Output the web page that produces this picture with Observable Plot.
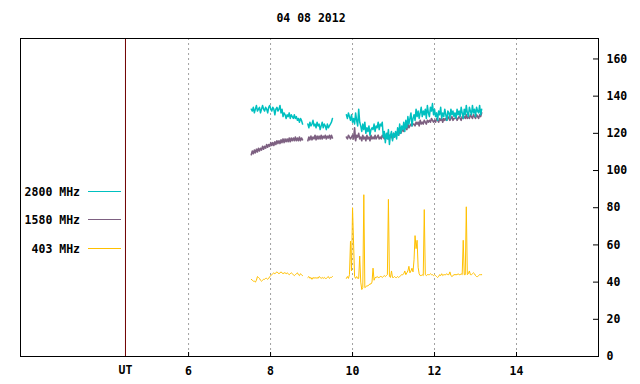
<!DOCTYPE html>
<html><head><meta charset="utf-8">
<script src="https://cdn.jsdelivr.net/npm/d3@7"></script>
<script src="https://cdn.jsdelivr.net/npm/@observablehq/plot@0.6"></script>
<style>
body{margin:0;background:#fff}
#chart{width:640px;height:384px}
</style>
</head><body><div id="chart"></div>
<script>
const titleText = "04 08 2012";
const seriesNames = ["2800 MHz", "1580 MHz", "403 MHz"];
const seriesColors = ["#00c0c0", "#7d6081", "#ffc000"];
const seriesWidths = [1.5, 1.6, 1];
const drawOrder = ["1580 MHz", "2800 MHz", "403 MHz"];
const xTicks = [6, 8, 10, 12, 14];
const yTicks = [0, 20, 40, 60, 80, 100, 120, 140, 160];
const utTime = 4.461;
const utLabel = "UT";
const sampleStep = 0.025;
const segStarts = [7.53, 8.91, 9.85];

// 2800 MHz
const teal_A = [133,132,134,131,133,135,132,133,134,131,133,135,133,132,134,133,131,134,135,133,132,134,133,130,133,134,132,133,135,
  131,133,129,131,130,128,130,129,131,128,130,129,128,130,128,129,127,128,126,128,127,125];
const teal_B = [125,123,126,124,125,127,124,125,123,126,124,125,122,124,126,123,125,124,122,125,123,124,125,126,128];
const teal_C = [130,128,131,129,127,130,
  126,128,125,131,127,124,133,126,
  124,121,125,122,126,120,123,121,124,119,122,123,
  122,125,121,124,123,126,122,125,124,126,
  118,121,115,120,117,122,114,119,121,116,120,118,
  121,117,123,119,125,120,124,122,126,121,
  127,123,129,125,128,131,124,128,
  130,127,133,129,132,128,131,134,129,132,130,133,128,135,131,129,134,132,136,130,
  133,129,131,127,132,130,134,128,131,129,133,130,127,132,131,128,133,130,132,129,
  131,128,133,130,132,129,134,131,128,133,130,135,131,129,134,132,130,135,131,133,129,134,132,131,135,130,133];

// 1580 MHz
const purple_A = [108.5,110.5,109,111,109.5,111.5,110,112,110.5,112,111,113,111.5,113,112,114,112.5,114,113,115,
  113.5,115,113.5,115.5,114,116,114.5,116,114.5,116.5,115,117,115,117,115.5,117,115.5,117.5,115.5,117.5,
  116,117.5,116,118,116,117.5,116,118,116,117.5,116.5];
const purple_B = [116,118,116.5,118.5,116.5,118,117,119,116.5,118.5,117,118.5,117,119,117,118.5,117.5,119,117,118.5,117.5,119,117,119,117.5];
const purple_C = [118,117,119,118,117,118,
  119,117,123,116,119,118,120,117,
  118,116,119,117,118,116,119,117,118,116,119,117,
  118,117,119,117,118,119,117,118,117,119,
  118,117,119,118,120,117,119,118,119,117,120,118,
  120,119,121,119,122,120,121,122,121,123,
  123,122,125,123,124,125,124,125,
  125,124,126,125,126,124,127,125,126,125,127,126,125,127,126,127,126,128,127,126,
  127,126,128,127,126,128,127,128,126,128,127,128,127,129,128,127,128,129,127,128,
  128,129,127,128,129,128,127,129,128,129,128,130,128,129,128,130,129,128,130,129,128,130,129,128,130,129,131];

// 403 MHz
const yellow_A = [41.5,41,40.5,40.5,40,41,43,42.5,42,41,40.5,41,41.5,41.5,42,42,41.5,42,43,43.5,
  44,44.5,45,44.5,45,45.5,45,44.5,45,45.5,45,44.5,45,45,44.5,45,44.5,44,44.5,45,
  44.5,44,43.5,44,44.5,45,44,43.5,44.5,44,43.5];
const yellow_B = [42.5,43,42,42.5,41.5,42.5,42,42.5,42,42.5,42,43,42.5,42,42.5,42,42.5,42,42,42.5,43,42,42.5,42.5,43];
const yellow_C = [42,43,42,44,62,46,80,61,43,42,43,42,42,54,40,36,37,87,37,37.5,
  38,38,38.5,39,39,40,47.5,41,42.5,42.5,43,42.5,42.5,43,43,42.5,43,43.5,43,43.5,
  44,84.5,43,42.5,46,42.5,42.5,43,42.5,42.5,43,42.5,43,43.5,44,44,44.5,46,44,45,
  46,48.5,45,46,47.5,45.5,52,65,58,62.5,48,44.5,43.5,43.5,44,43.5,79,44,43.5,44,
  44,44,44.5,44,44,43.5,44,43.5,43,42.5,43,44,43.5,44.5,43.5,44,44,44,44.5,44,
  44,45.5,43.5,43,43.5,44,44,44,44,44.5,44,44,44.5,44,62.5,44,44,80.5,44,44.5,
  46,44,44,44.5,45,44.5,43.5,43,43,43.5,44,44,44];

const segments = [
  {series: "2800 MHz", start: segStarts[0], values: teal_A},
  {series: "2800 MHz", start: segStarts[1], values: teal_B},
  {series: "2800 MHz", start: segStarts[2], values: teal_C},
  {series: "1580 MHz", start: segStarts[0], values: purple_A},
  {series: "1580 MHz", start: segStarts[1], values: purple_B},
  {series: "1580 MHz", start: segStarts[2], values: purple_C},
  {series: "403 MHz", start: segStarts[0], values: yellow_A},
  {series: "403 MHz", start: segStarts[1], values: yellow_B},
  {series: "403 MHz", start: segStarts[2], values: yellow_C}
];
const rows = segments.flatMap((s, k) => s.values.map((v, i) => ({t: s.start + i * sampleStep, v, series: s.series, seg: k})));
const colorOf = name => seriesColors[seriesNames.indexOf(name)];
const widthOf = name => seriesWidths[seriesNames.indexOf(name)];

const W = 640, H = 384, mT = 38, mB = 28, mL = 20, mR = 42;
const font = "'DejaVu Sans Mono', monospace";

const plot = Plot.plot({
  width: W, height: H,
  marginTop: mT, marginBottom: mB, marginLeft: mL, marginRight: mR,
  x: {domain: [1.9, 16]},
  y: {domain: [0, 171]},
  style: {fontFamily: font, fontSize: "11.5px", fontWeight: "bold", color: "#000", background: "#fff"},
  marks: [
    Plot.gridX(xTicks, {stroke: "#a0a0a0", strokeOpacity: 1, strokeDasharray: "2,3"}),
    Plot.ruleX([utTime], {stroke: "#700000", strokeWidth: 1}),
    ...drawOrder.map(name => Plot.line(rows.filter(d => d.series === name), {x: "t", y: "v", z: "seg", stroke: colorOf(name), strokeWidth: widthOf(name)})),
    Plot.frame({stroke: "#000", strokeWidth: 1}),
    Plot.tickX(xTicks, {x: d => d, stroke: "#000", insetTop: H - mT - mB - 4}),
    Plot.tickY(yTicks, {y: d => d, stroke: "#000", insetLeft: W - mL - mR - 5}),
    Plot.axisX(xTicks, {anchor: "bottom", tickSize: 0, tickPadding: 10, label: null, fontWeight: "bold"}),
    Plot.axisY(yTicks, {anchor: "right", tickSize: 0, tickPadding: 8, label: null, textAnchor: "start", fontWeight: "bold"}),
    Plot.text([utLabel], {x: () => utTime, frameAnchor: "bottom", dy: 9, lineAnchor: "top", text: d => d, fontWeight: "bold"})
  ]
});

const svg = d3.select(plot);
svg.append("text")
  .attr("x", 311).attr("y", 22)
  .attr("text-anchor", "middle")
  .attr("font-family", font).attr("font-size", "11.5px").attr("font-weight", "bold")
  .text(titleText);

const legendY = [191.5, 219.5, 248.5];
const lg = svg.append("g").attr("font-family", font).attr("font-size", "11.5px").attr("font-weight", "bold");
seriesNames.forEach((name, i) => {
  lg.append("text").attr("x", 80).attr("y", legendY[i]).attr("dy", "0.35em").attr("text-anchor", "end").text(name);
  lg.append("line").attr("x1", 88).attr("x2", 121).attr("y1", legendY[i]).attr("y2", legendY[i])
    .attr("stroke", seriesColors[i]).attr("stroke-width", 1);
});

document.getElementById("chart").appendChild(plot);
</script></body></html>
